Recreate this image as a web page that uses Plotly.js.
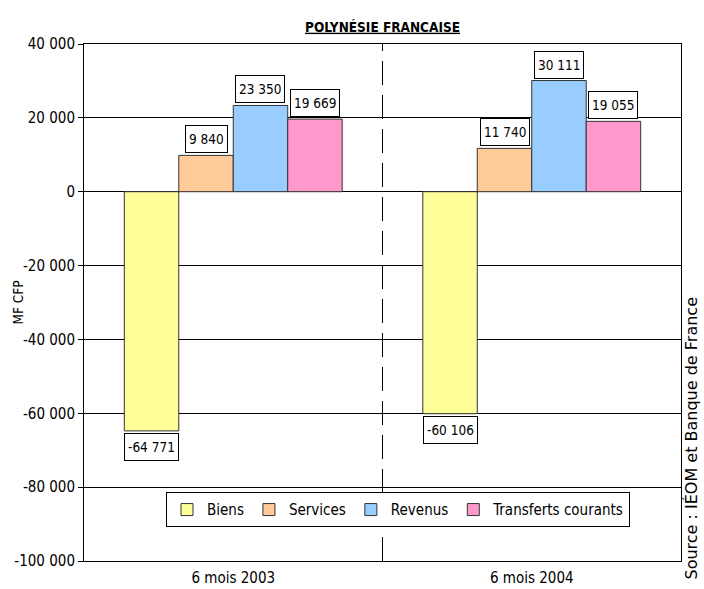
<!DOCTYPE html>
<html>
<head>
<meta charset="utf-8">
<script src="https://cdn.plot.ly/plotly-3.0.1.min.js"></script>
<style>html,body{margin:0;padding:0;background:#fff;}#chart{width:704px;height:589px;}</style>
</head>
<body>
<div id="chart"></div>
<script>
const categories = ["6 mois 2003", "6 mois 2004"];
const seriesNames = ["Biens", "Services", "Revenus", "Transferts courants"];
const biens = [-64771, -60106];
const services = [9840, 11740];
const revenus = [23350, 30111];
const transferts = [19669, 19055];
const labelsBiens = ["-64 771", "-60 106"];
const labelsServices = ["9 840", "11 740"];
const labelsRevenus = ["23 350", "30 111"];
const labelsTransferts = ["19 669", "19 055"];
const yTickVals = [40000, 20000, 0, -20000, -40000, -60000, -80000, -100000];
const yTickText = ["40 000", "20 000", "0", "-20 000", "-40 000", "-60 000", "-80 000", "-100 000"];

const FONT = "'DejaVu Sans Condensed', 'Liberation Sans', sans-serif";
const colors = ["#FFFF99", "#FFCC99", "#99CCFF", "#FF99CC"];
const values = [biens, services, revenus, transferts];
const labels = [labelsBiens, labelsServices, labelsRevenus, labelsTransferts];
const bargap = 0.27;
const barW = (1 - bargap) / values.length;

const traces = values.map((v, k) => ({
  type: "bar",
  name: seriesNames[k],
  x: categories,
  y: v,
  marker: {color: colors[k], line: {color: "#333333", width: 1}},
  hoverinfo: "none"
}));

const annotations = [];
values.forEach((v, k) => {
  v.forEach((val, i) => {
    annotations.push({
      xref: "x", yref: "y",
      x: i + (k - (values.length - 1) / 2) * barW,
      y: val,
      text: labels[k][i],
      showarrow: false,
      yanchor: val >= 0 ? "bottom" : "top",
      yshift: val >= 0 ? 2 : -2,
      height: 20,
      bgcolor: "#ffffff",
      bordercolor: "#000000",
      borderwidth: 1,
      borderpad: 3,
      font: {family: FONT, size: 13.5, color: "#000"}
    });
  });
});
annotations.push({
  xref: "paper", yref: "paper",
  x: (703 - 84) / 597, y: 0.236,
  text: "Source : IÉOM et Banque de France",
  textangle: -90,
  showarrow: false,
  xanchor: "right", yanchor: "middle",
  font: {family: "'DejaVu Sans', sans-serif", size: 16, color: "#000"}
});
annotations.push({
  xref: "paper", yref: "paper",
  x: (17 - 84) / 597, y: 0.5,
  text: "MF CFP",
  textangle: -90,
  showarrow: false,
  xanchor: "center", yanchor: "middle",
  font: {family: FONT, size: 13.5, color: "#000"}
});

const layout = {
  width: 704, height: 589,
  margin: {l: 84, r: 23, t: 44, b: 28},
  paper_bgcolor: "#ffffff",
  plot_bgcolor: "#ffffff",
  showlegend: true,
  barmode: "group",
  bargap: bargap,
  bargroupgap: 0,
  font: {family: FONT, size: 15, color: "#000"},
  title: {
    text: "<b><u>POLYNÉSIE FRANCAISE</u></b>",
    font: {family: FONT, size: 13.5, color: "#000"},
    x: 0.5, xref: "paper", xanchor: "center",
    y: 1 - 27 / 589, yref: "container", yanchor: "middle"
  },
  xaxis: {
    type: "category",
    range: [-0.5, 1.5],
    showline: true, linecolor: "#000", linewidth: 1, mirror: true,
    showgrid: false, zeroline: false,
    ticks: "",
    ticklabelstandoff: 3,
    tickfont: {family: FONT, size: 15, color: "#000"}
  },
  yaxis: {
    range: [-100000, 40000],
    tickvals: yTickVals,
    ticktext: yTickText,
    showline: true, linecolor: "#000", linewidth: 1, mirror: true,
    showgrid: true, gridcolor: "#000", gridwidth: 1,
    zeroline: true, zerolinecolor: "#000", zerolinewidth: 1,
    ticks: "outside", ticklen: 5, tickcolor: "#000",
    tickfont: {family: FONT, size: 15, color: "#000"}
  },
  legend: {
    orientation: "h",
    x: 0.526, y: 0.099, xanchor: "center", yanchor: "middle",
    bgcolor: "#ffffff", bordercolor: "#000", borderwidth: 1,
    font: {family: FONT, size: 15, color: "#000"},
    itemwidth: 30,
    traceorder: "normal"
  },
  shapes: [{
    type: "line", xref: "x", yref: "paper",
    x0: 0.5, x1: 0.5, y0: 0, y1: 1,
    line: {color: "#000", width: 1, dash: "24px,10px"},
    layer: "below"
  }],
  annotations: annotations
};

Plotly.newPlot("chart", traces, layout, {displayModeBar: false, staticPlot: true});
</script>
</body>
</html>
